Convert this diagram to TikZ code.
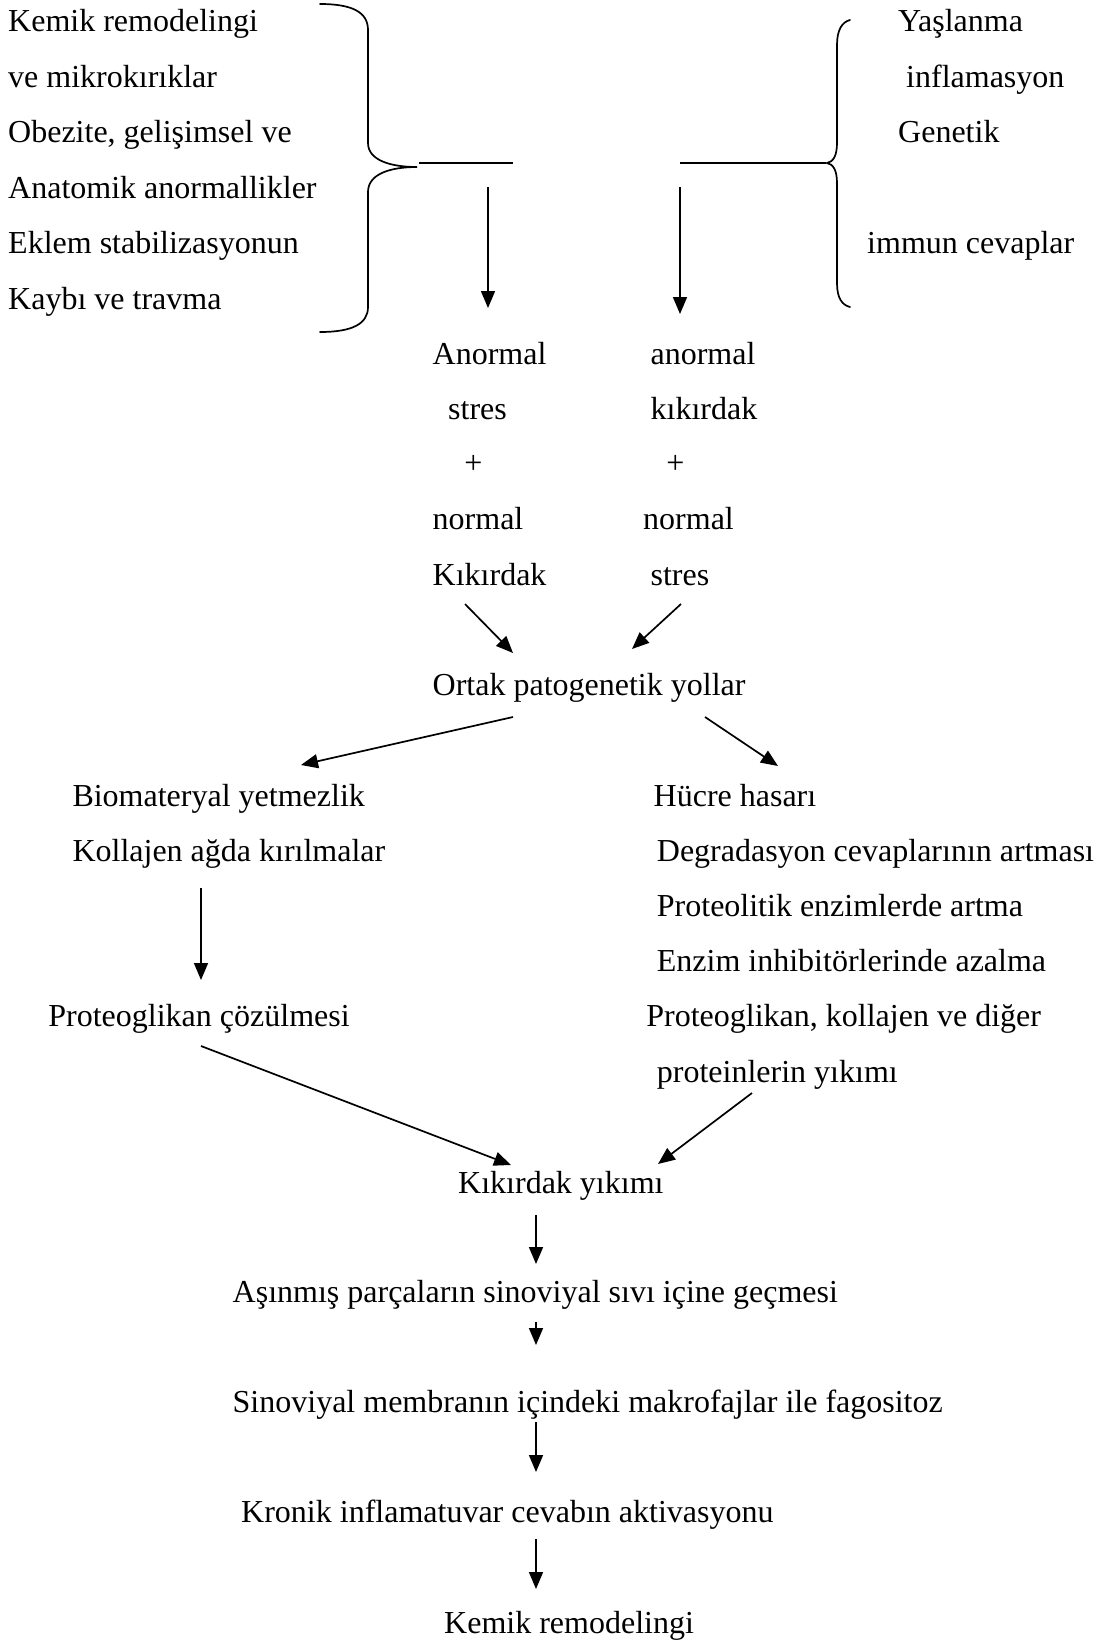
\documentclass[tikz,border=0pt]{standalone}
\usepackage{fontspec}
\setmainfont{Liberation Serif}
\usetikzlibrary{arrows.meta}
\begin{document}
\begin{tikzpicture}[x=1pt,y=-1pt,
  lbl/.style={anchor=mid west, inner sep=0pt, yshift=-8.5pt, font=\fontsize{32}{38}\selectfont},
  sym/.style={anchor=mid, inner sep=0pt, yshift=-8.5pt, font=\fontsize{32}{38}\selectfont},
  conn/.style={line width=1.7pt},
  arr/.style={conn, -{Triangle[length=17pt,width=14pt]}},
  brace/.style={line width=1.7pt, line cap=round}]
\useasboundingbox (0,0) rectangle (1108,1642);

% left group of causes
\node[lbl] (l1) at (8,21)    {Kemik remodelingi};
\node[lbl] (l2) at (8,76.5)  {ve mikrokırıklar};
\node[lbl] (l3) at (8,132)   {Obezite, gelişimsel ve};
\node[lbl] (l4) at (8,187.5) {Anatomik anormallikler};
\node[lbl] (l5) at (8,243)   {Eklem stabilizasyonun};
\node[lbl] (l6) at (8,298.5) {Kaybı ve travma};

% right group of causes
\node[lbl] (r1) at (898,21)   {Yaşlanma};
\node[lbl] (r2) at (906,76.5) {inflamasyon};
\node[lbl] (r3) at (898,132)  {Genetik};
\node[lbl] (r4) at (867,243)  {immun cevaplar};

% braces
\draw[brace] (320,4) .. controls (352,4) and (368,12) .. (368,30)
  -- (368,143) .. controls (368,160) and (390,167) .. (417,167)
  .. controls (390,167) and (368,174) .. (368,192)
  -- (368,307) .. controls (368,324) and (352,332) .. (320,332);
\draw[brace] (850,20) .. controls (842,22) and (837,30) .. (837,45)
  -- (837,143) .. controls (837,156) and (833,162) .. (827,163)
  .. controls (833,164) and (837,170) .. (837,183)
  -- (837,283) .. controls (837,298) and (842,305) .. (850,307);

\coordinate (lbt) at (419,163);
\coordinate (lbe) at (513,163);
\coordinate (rbt) at (826,163);
\coordinate (rbe) at (680,163);
\draw[conn] (lbt) -- (lbe);
\draw[conn] (rbt) -- (rbe);

\coordinate (la1) at (488,187);
\coordinate (la2) at (488,308);
\coordinate (ra1) at (680,187);
\coordinate (ra2) at (680,314);
\draw[arr] (la1) -- (la2);
\draw[arr] (ra1) -- (ra2);

% two middle columns
\node[lbl] (m1) at (432.5,354)   {Anormal};
\node[lbl] (m2) at (448,408.5)   {stres};
\node[sym] (m3) at (473.4,463)   {+};
\node[lbl] (m4) at (432.5,518.4) {normal};
\node[lbl] (m5) at (432.5,575)   {Kıkırdak};

\node[lbl] (n1) at (650.4,354)   {anormal};
\node[lbl] (n2) at (650.4,408.5) {kıkırdak};
\node[sym] (n3) at (675.5,463)   {+};
\node[lbl] (n4) at (643,518.4)   {normal};
\node[lbl] (n5) at (650.4,575)   {stres};

\coordinate (ma1) at (465,604);
\coordinate (ma2) at (513,653);
\coordinate (na1) at (681,604);
\coordinate (na2) at (632,649);
\draw[arr] (ma1) -- (ma2);
\draw[arr] (na1) -- (na2);

\node[lbl] (ortak) at (432.5,685) {Ortak patogenetik yollar};

\coordinate (oa1) at (513,717);
\coordinate (oa2) at (301,765);
\coordinate (ob1) at (705,717);
\coordinate (ob2) at (778,766);
\draw[arr] (oa1) -- (oa2);
\draw[arr] (ob1) -- (ob2);

% left branch
\node[lbl] (b1) at (72.3,796)   {Biomateryal yetmezlik};
\node[lbl] (b2) at (72.3,850.5) {Kollajen ağda kırılmalar};
\coordinate (ba1) at (201,888);
\coordinate (ba2) at (201,980);
\draw[arr] (ba1) -- (ba2);
\node[lbl] (b3) at (48.2,1016)  {Proteoglikan çözülmesi};

% right branch
\node[lbl] (h1) at (653.5,796)    {Hücre hasarı};
\node[lbl] (h2) at (656.7,850.4)  {Degradasyon cevaplarının artması};
\node[lbl] (h3) at (656.7,906)    {Proteolitik enzimlerde artma};
\node[lbl] (h4) at (656.7,960.4)  {Enzim inhibitörlerinde azalma};
\node[lbl] (h5) at (646.2,1016)   {Proteoglikan, kollajen ve diğer};
\node[lbl] (h6) at (656.7,1071.4) {proteinlerin yıkımı};

\coordinate (pa1) at (201,1046);
\coordinate (pa2) at (511,1165);
\coordinate (pb1) at (752,1093);
\coordinate (pb2) at (658,1164);
\draw[arr] (pa1) -- (pa2);
\draw[arr] (pb1) -- (pb2);

% lower chain
\node[lbl] (k1) at (458,1183)  {Kıkırdak yıkımı};
\node[lbl] (k2) at (232.5,1292) {Aşınmış parçaların sinoviyal sıvı içine geçmesi};
\node[lbl] (k3) at (232.5,1402) {Sinoviyal membranın içindeki makrofajlar ile fagositoz};
\node[lbl] (k4) at (241,1512)   {Kronik inflamatuvar cevabın aktivasyonu};
\node[lbl] (k5) at (444,1623)   {Kemik remodelingi};

\coordinate (ka1) at (536,1215);
\coordinate (ka2) at (536,1264);
\coordinate (kb1) at (536,1322);
\coordinate (kb2) at (536,1345);
\coordinate (kc1) at (536,1422);
\coordinate (kc2) at (536,1472);
\coordinate (kd1) at (536,1539);
\coordinate (kd2) at (536,1589);
\draw[arr] (ka1) -- (ka2);
\draw[arr] (kb1) -- (kb2);
\draw[arr] (kc1) -- (kc2);
\draw[arr] (kd1) -- (kd2);
\end{tikzpicture}
\end{document}
